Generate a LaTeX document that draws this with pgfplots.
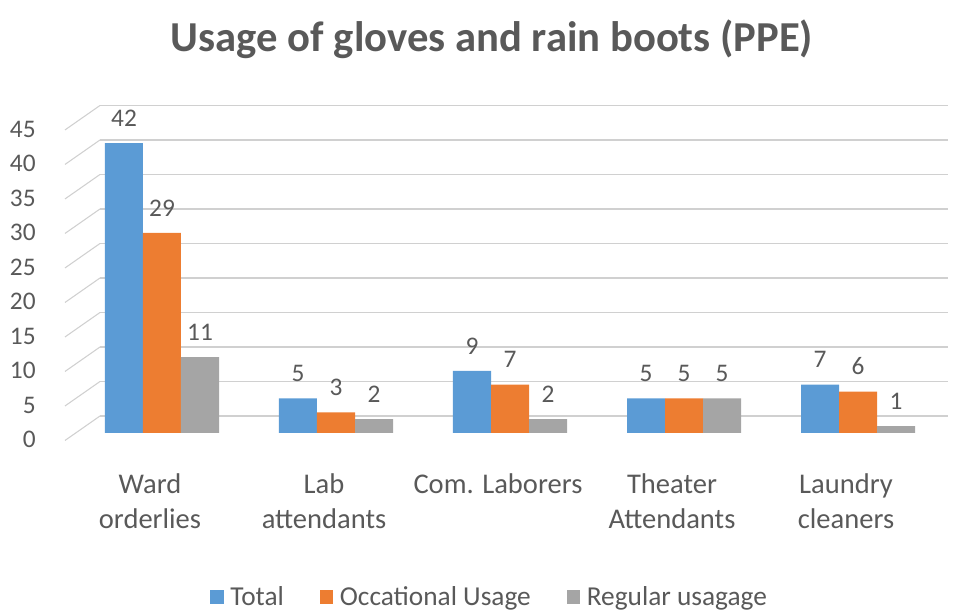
\documentclass[border=0pt]{standalone}
\usepackage{fontspec}
\setmainfont{Carlito}
\usepackage{pgfplots}
\pgfplotsset{compat=1.18}
\definecolor{cBlue}{HTML}{5B9BD5}
\definecolor{cOrange}{HTML}{ED7D31}
\definecolor{cGray}{HTML}{A5A5A5}
\definecolor{txt}{HTML}{595959}
\definecolor{grid}{HTML}{D0D0D0}
\begin{document}
\begin{tikzpicture}
\path (0,0) rectangle (718.5pt,457.5pt);
\node[font=\fontsize{32}{38}\selectfont\bfseries, text=txt] at (369pt,428pt) {Usage of gloves and rain boots (PPE)};
\begin{axis}[
  at={(56.25pt,132.75pt)}, anchor=south west,
  scale only axis, width=652.5pt, height=232.9pt,
  xmin=-0.5, xmax=4.5, ymin=0, ymax=45,
  ybar=0pt, bar width=28.5pt,
  axis line style={draw=none},
  clip=false,
  xtick={0,1,2,3,4},
  xticklabels={{Ward\\orderlies},{Lab\\attendants},{Com. Laborers},{Theater\\Attendants},{Laundry\\cleaners}},
  ytick={0,5,...,45},
  major tick length=0pt,
  /pgf/number format/assume math mode=true,
  xticklabel style={font=\fontsize{21.4}{26}\selectfont, text=txt, align=center, anchor=north, yshift=-27pt, xshift=-9pt},
  yticklabel style={font=\fontsize{19}{22}\selectfont, text=txt, xshift=-26pt, yshift=-5pt},
  nodes near coords,
  every node near coord/.append style={font=\fontsize{19}{22}\selectfont, text=txt, yshift=9pt},
  legend style={at={(0.477,-0.528)}, anchor=center, draw=none, fill=none, font=\fontsize{20.5}{24}\selectfont, text=txt, legend columns=3, /tikz/every even column/.append style={column sep=25pt}, /tikz/every odd column/.append style={column sep=0pt}},
  legend image code/.code={\fill[#1] (0pt,-5pt) rectangle (10pt,5pt); \path (13pt,0pt);},
]
\pgfplotsinvokeforeach{0,5,...,45}{
  \draw[grid, line width=1.2pt] ([shift={(18.75pt,12.75pt)}]axis cs:-0.5,#1) -- ([shift={(2.5pt,12.75pt)}]axis cs:4.5,#1);
  \draw[grid, line width=0.8pt] ([shift={(-7.5pt,-5.6pt)}]axis cs:-0.5,#1) -- ([shift={(18.75pt,12.75pt)}]axis cs:-0.5,#1);
}
\addplot[fill=cBlue, draw=none] coordinates {(0,42) (1,5) (2,9) (3,5) (4,7)};
\addplot[fill=cOrange, draw=none] coordinates {(0,29) (1,3) (2,7) (3,5) (4,6)};
\addplot[fill=cGray, draw=none] coordinates {(0,11) (1,2) (2,2) (3,5) (4,1)};
\legend{Total, Occational Usage, Regular usagage}
\end{axis}
\end{tikzpicture}
\end{document}
